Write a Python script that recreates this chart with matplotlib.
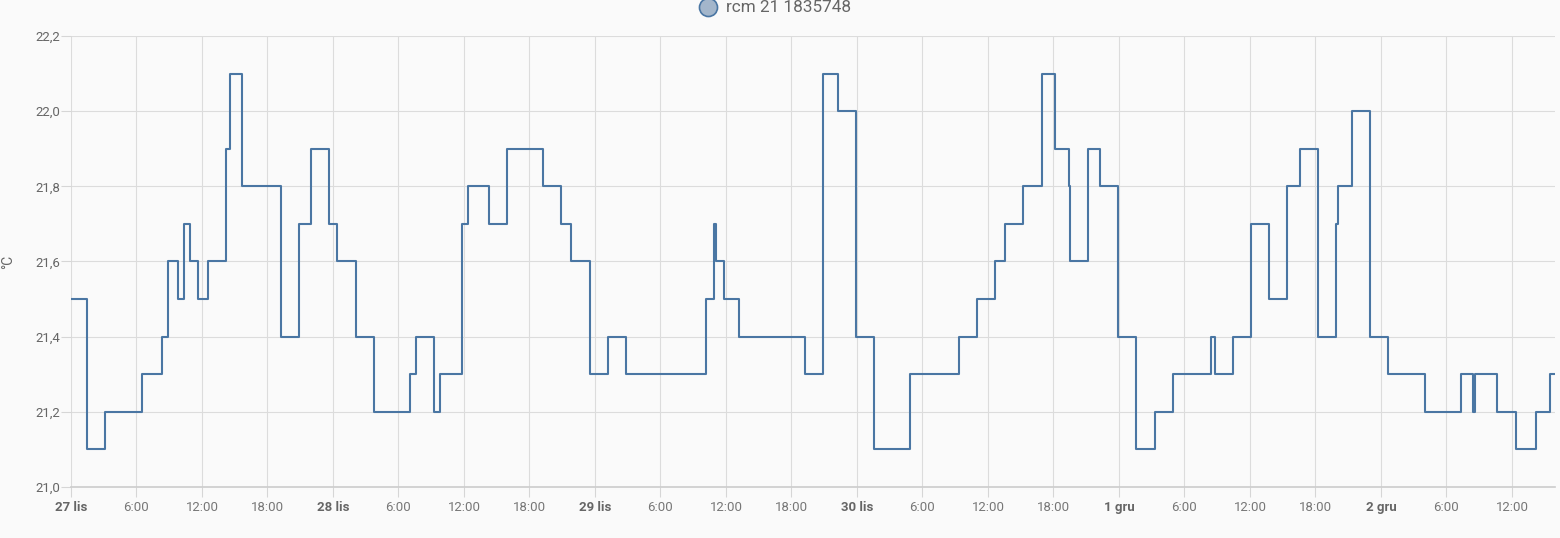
import matplotlib
matplotlib.use("Agg")
import matplotlib.pyplot as plt
from matplotlib.lines import Line2D

# hours since 27 lis 00:00 at which the value changes, and the value from then on
change_hours = [0.0, 1.47, 3.15, 6.47, 8.34, 8.85, 9.8, 10.32, 10.9, 11.66, 12.55,
                14.23, 14.57, 15.7, 19.24, 20.89, 21.98, 23.66, 24.4, 26.08, 27.73,
                31.03, 31.57, 33.25, 33.8, 35.82, 36.4, 38.26, 39.9, 43.24, 44.92,
                45.8, 47.51, 49.16, 50.8, 58.2, 58.93, 59.08, 59.85, 61.16, 67.24,
                68.92, 70.23, 71.91, 73.56, 76.89, 81.31, 82.99, 84.67, 85.56, 87.24,
                88.92, 90.17, 91.39, 91.5, 93.16, 94.26, 95.94, 97.58, 99.27, 100.92,
                104.43, 104.76, 106.44, 108.09, 109.77, 111.42, 112.55, 114.23, 115.91,
                116.06, 117.34, 118.99, 120.67, 124.0, 127.33, 128.4, 128.58, 130.66,
                132.34, 134.17, 135.48, 135.94]
temps = [21.5, 21.1, 21.2, 21.3, 21.4, 21.6, 21.5, 21.7, 21.6, 21.5, 21.6,
         21.9, 22.1, 21.8, 21.4, 21.7, 21.9, 21.7, 21.6, 21.4, 21.2,
         21.3, 21.4, 21.2, 21.3, 21.7, 21.8, 21.7, 21.9, 21.8, 21.7,
         21.6, 21.3, 21.4, 21.3, 21.5, 21.7, 21.6, 21.5, 21.4, 21.3,
         22.1, 22.0, 21.4, 21.1, 21.3, 21.4, 21.5, 21.6, 21.7, 21.8,
         22.1, 21.9, 21.8, 21.6, 21.9, 21.8, 21.4, 21.1, 21.2, 21.3,
         21.4, 21.3, 21.4, 21.7, 21.5, 21.8, 21.9, 21.4, 21.7,
         21.8, 22.0, 21.4, 21.3, 21.2, 21.3, 21.2, 21.3, 21.2,
         21.1, 21.2, 21.3, 21.3]

tick_hours = list(range(0, 133, 6))
tick_labels = ["27 lis", "6:00", "12:00", "18:00",
               "28 lis", "6:00", "12:00", "18:00",
               "29 lis", "6:00", "12:00", "18:00",
               "30 lis", "6:00", "12:00", "18:00",
               "1 gru", "6:00", "12:00", "18:00",
               "2 gru", "6:00", "12:00"]
y_ticks = [21.0, 21.2, 21.4, 21.6, 21.8, 22.0, 22.2]
y_tick_labels = ["21,0", "21,2", "21,4", "21,6", "21,8", "22,0", "22,2"]
series_name = "rcm 21 1835748"

plt.rcParams['font.family'] = ['Roboto', 'DejaVu Sans']

W, H = 1560, 538
fig = plt.figure(figsize=(W / 100, H / 100), dpi=100, facecolor='#fafafa')
ax = fig.add_axes([71 / W, 1 - 487 / H, 1484 / W, 451 / H], facecolor='#fafafa')

line_color = '#4a76a3'
ax.step(change_hours, temps, where='post', color=line_color, lw=1.5, zorder=3)

ax.set_xlim(0, 135.94)
ax.set_ylim(21.0, 22.2)
ax.set_xticks(tick_hours)
ax.set_xticklabels(tick_labels)
ax.set_yticks(y_ticks)
ax.set_yticklabels(y_tick_labels)

for lab in ax.get_xticklabels():
    if not lab.get_text().endswith(":00"):
        lab.set_fontweight('bold')
        lab.set_color('#666666')
    else:
        lab.set_color('#777777')
for lab in ax.get_yticklabels():
    lab.set_color('#666666')

ax.tick_params(axis='both', labelsize=9.5, length=7, width=0.8, color='#d6d6d6')
ax.tick_params(axis='x', pad=3)
ax.tick_params(axis='y', pad=1)

ax.grid(True, color='#dcdcdc', lw=0.8)
ax.set_axisbelow(True)
for s in ['top', 'right', 'left']:
    ax.spines[s].set_visible(False)
ax.spines['bottom'].set_color('#cccccc')
ax.spines['bottom'].set_linewidth(1.2)

fig.text(8 / W, 1 - 262 / H, "°C", rotation=90, ha='center', va='center',
         fontsize=10, color='#666666')

# legend (drawn manually)
fig.add_artist(Line2D([708 / W], [1 - 7 / H], transform=fig.transFigure,
                      marker='o', linestyle='none', markersize=13,
                      markerfacecolor='#a3b6cb', markeredgecolor='#4a76a3',
                      markeredgewidth=1.2))
fig.text(726 / W, 1 - 7 / H, series_name, ha='left', va='center',
         fontsize=12.3, color='#666666')

fig.savefig("out.png", dpi=100, facecolor=fig.get_facecolor())
